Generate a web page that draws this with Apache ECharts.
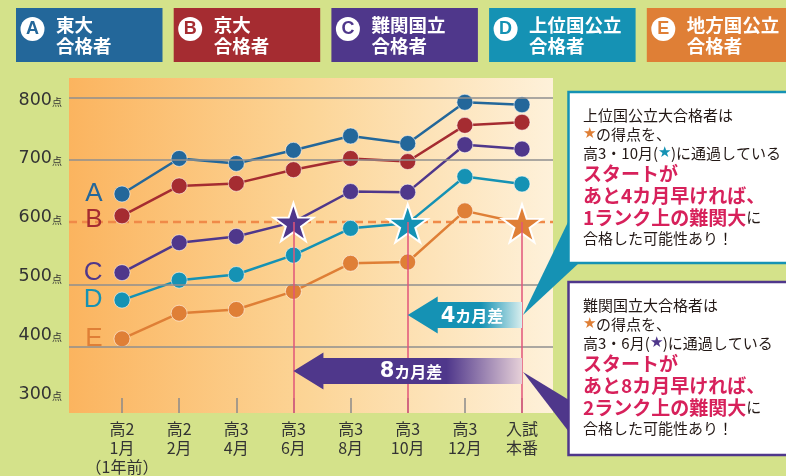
<!DOCTYPE html>
<html>
<head>
<meta charset="utf-8">
<script src="https://cdn.jsdelivr.net/npm/echarts@6/dist/echarts.min.js"></script>
<style>
  html, body { margin: 0; padding: 0; background: #d4e28a; }
  #chart { width: 786px; height: 476px; }
</style>
</head>
<body>
<div id="chart"></div>
<script>
var categories = ['高2\n1月\n（1年前）', '高2\n2月', '高3\n4月', '高3\n6月', '高3\n8月', '高3\n10月', '高3\n12月', '入試\n本番'];
var yTicks = [300, 400, 500, 600, 700, 800];
var gridValues = [400, 500, 700, 800];
var borderline = 600;

var letters = ['A', 'B', 'C', 'D', 'E'];
var groupNames = ['東大\n合格者', '京大\n合格者', '難関国立\n合格者', '上位国公立\n合格者', '地方国公立\n合格者'];
var seriesA = [645, 702, 694, 715, 738, 726, 792, 788];
var seriesB = [610, 658, 662, 684, 702, 697, 755, 760];
var seriesC = [519, 567, 577, 600, 649, 648, 724, 717];
var seriesD = [475, 507, 516, 547, 590, 598, 673, 661];
var seriesE = [413, 454, 460, 489, 534, 536, 618, 598];
// index of the point drawn as a star (-1 = none)
var starIndex = [-1, -1, 3, 5, 7];

var colors = ['#23679a', '#a52c31', '#4f378b', '#1592b4', '#df7f36'];
var YMIN = 294.1, YMAX = 830.9;
var STAR = 'path://M0,-1L0.2245,-0.309L0.951,-0.309L0.363,0.118L0.588,0.809L0,0.382L-0.588,0.809L-0.363,0.118L-0.951,-0.309L-0.2245,-0.309Z';

var chart = echarts.init(document.getElementById('chart'));

function makeSeries(i, values) {
  var color = colors[i];
  return {
    name: letters[i],
    type: 'line',
    xAxisIndex: 1,
    yAxisIndex: 1,
    symbol: 'circle',
    symbolSize: 16,
    lineStyle: { color: color, width: 2.5 },
    itemStyle: { color: color, borderColor: 'rgba(255,255,255,0.55)', borderWidth: 1 },
    z: 3,
    data: values.map(function (v, k) {
      var item = { value: v };
      if (k === 0) {
        item.label = {
          show: true, position: 'left', distance: 11,
          formatter: letters[i],
          color: color, fontSize: 26, fontFamily: 'Liberation Sans',
          offset: i === 1 ? [0, 4] : [0, 0]
        };
      }
      if (k === starIndex[i]) {
        item.symbol = STAR;
        item.symbolSize = [40, 38];
        item.itemStyle = { color: color, borderColor: '#fff', borderWidth: 2 };
      }
      return item;
    })
  };
}

var seriesList = [
  {
    type: 'line', xAxisIndex: 0, yAxisIndex: 0,
    data: [[0, borderline], [1, borderline]],
    symbol: 'none', silent: true, z: 1,
    lineStyle: { color: '#f08a48', width: 2.5, type: [8, 5] },
    markLine: {
      silent: true, symbol: 'none', label: { show: false },
      lineStyle: { color: '#8f8f8f', width: 1.5, type: 'solid' },
      data: gridValues.map(function (v) { return { yAxis: v }; })
    }
  }
];
[seriesA, seriesB, seriesC, seriesD, seriesE].forEach(function (vals, i) {
  seriesList.push(makeSeries(i, vals));
});
// pink drop lines under the stars
seriesList[1].markLine = {
  silent: true, symbol: 'none', label: { show: false },
  lineStyle: { color: '#e0557a', width: 1.5, type: 'solid' },
  data: starIndex.filter(function (s) { return s >= 0; }).map(function (s) {
    return [{ coord: [s, borderline] }, { coord: [s, YMIN] }];
  })
};

var option = {
  animation: false,
  backgroundColor: '#d4e28a',
  grid: [
    {
      left: 69, top: 78, width: 484, height: 335, show: true, borderWidth: 0,
      backgroundColor: new echarts.graphic.LinearGradient(0, 0, 1, 0, [
        { offset: 0, color: '#fbb45f' },
        { offset: 0.5, color: '#fcd597' },
        { offset: 1, color: '#fef1da' }
      ])
    },
    { left: 122, top: 78, width: 400, height: 335 },
    { left: 69, top: 100, width: 484, height: 294 }
  ],
  xAxis: [
    { type: 'value', gridIndex: 0, min: 0, max: 1, show: false },
    {
      type: 'category', gridIndex: 1, data: categories, boundaryGap: false,
      axisLine: { show: false },
      axisTick: { show: true, inside: true, length: 15, lineStyle: { color: '#8a8a8a', width: 1.5 } },
      axisLabel: { margin: 6, fontSize: 16, lineHeight: 19, color: '#333', fontFamily: 'Noto Sans CJK JP', interval: 0 }
    },
    { type: 'value', gridIndex: 2, show: false }
  ],
  yAxis: [
    { type: 'value', gridIndex: 0, min: YMIN, max: YMAX, show: false },
    { type: 'value', gridIndex: 1, min: YMIN, max: YMAX, show: false },
    {
      type: 'value', gridIndex: 2, min: yTicks[0], max: yTicks[yTicks.length - 1], interval: 100,
      axisLine: { show: false }, axisTick: { show: false }, splitLine: { show: false },
      axisLabel: {
        margin: 7,
        formatter: function (v) { return '{n|' + v + '}{u|点}'; },
        rich: {
          n: { fontSize: 17.5, fontFamily: 'DejaVu Sans', color: '#333' },
          u: { fontSize: 10, fontFamily: 'Noto Sans CJK JP', color: '#333', padding: [5, 0, 0, 0] }
        }
      }
    }
  ],
  series: seriesList
};
chart.setOption(option);

// ---- decorations: legend boxes, arrows, note boxes ----
var graphics = [];
groupNames.forEach(function (name, i) {
  var x = 16 + i * 157.7;
  graphics.push({
    type: 'group', silent: true,
    children: [
      { type: 'rect', shape: { x: x, y: 8, width: 146.5, height: 54 }, style: { fill: colors[i] } },
      { type: 'circle', shape: { cx: x + 16.5, cy: 29, r: 12 }, style: { fill: '#fff' } },
      { type: 'text', x: x + 16.5, y: 29.5, style: { text: letters[i], fill: colors[i], font: 'bold 18px "Liberation Sans"', textAlign: 'center', textVerticalAlign: 'middle' } },
      { type: 'text', x: x + 40, y: 14, style: { text: name, fill: '#fff', font: 'bold 18.5px "Noto Sans CJK JP"', lineHeight: 21.5, textVerticalAlign: 'top' } }
    ]
  });
});

function arrow(tipIdx, endIdx, value, color, endColor, solidTo, label) {
  var tip = chart.convertToPixel({ gridIndex: 1 }, [tipIdx, value]);
  var end = chart.convertToPixel({ gridIndex: 1 }, [endIdx, value]);
  var x0 = tip[0], yc = tip[1], x1 = end[0], hx = x0 + 30;
  graphics.push({
    type: 'polygon', silent: true, z: 20,
    shape: { points: [[x0, yc], [hx, yc - 18.5], [hx, yc - 13], [x1, yc - 13], [x1, yc + 13], [hx, yc + 13], [hx, yc + 18.5]] },
    style: {
      fill: new echarts.graphic.LinearGradient(0, 0, 1, 0, [
        { offset: 0, color: color }, { offset: solidTo, color: color }, { offset: 1, color: endColor }
      ])
    }
  });
  graphics.push({
    type: 'text', silent: true, z: 21, x: label.x, y: yc + 1,
    style: {
      text: '{a|' + label.num + '}{b|カ月差}', textAlign: 'center', textVerticalAlign: 'middle',
      rich: {
        a: { fontSize: 21, fontWeight: 'bold', fill: '#fff', fontFamily: 'DejaVu Sans' },
        b: { fontSize: 16, fontWeight: 'bold', fill: '#fff', fontFamily: 'Noto Sans CJK JP' }
      }
    }
  });
}
arrow(5, 7, 451, '#1592b4', '#d8eeee', 0.64, { num: '4', x: 472 });
arrow(3, 7, 361.5, '#4f378b', '#e6d0d8', 0.67, { num: '8', x: 411 });

function noteBox(y, h, color, pointer, lines) {
  graphics.push({ type: 'polygon', silent: true, z: 30, shape: { points: pointer }, style: { fill: color } });
  graphics.push({
    type: 'rect', silent: true, z: 31,
    shape: { x: 568.5, y: y, width: 240, height: h },
    style: { fill: '#fff', stroke: color, lineWidth: 2.5 }
  });
  graphics.push({
    type: 'text', silent: true, z: 32, x: 583, y: y + 13.5,
    style: {
      text: lines.join('\n'), textVerticalAlign: 'top',
      fill: '#231815', fontSize: 15, fontFamily: 'Noto Sans CJK JP', lineHeight: 19,
      rich: {
        t: { fontSize: 15, fontFamily: 'Noto Sans CJK JP', fill: '#231815', lineHeight: 19 },
        m: { fontSize: 19, fontWeight: 'bold', fontFamily: 'Noto Sans CJK JP', fill: '#d7215b', lineHeight: 22 },
        so: { fontSize: 15, fill: '#df7f36', lineHeight: 19 },
        sd: { fontSize: 15, fill: '#1592b4', lineHeight: 19 },
        sc: { fontSize: 15, fill: '#4f378b', lineHeight: 19 }
      }
    }
  });
}
noteBox(92, 171, '#1592b4', [[568, 222], [579, 263], [523, 315]], [
  '{t|上位国公立大合格者は}',
  '{so|★}{t|の得点を、}',
  '{t|高3・10月(}{sd|★}{t|)に通過している}',
  '{m|スタートが}',
  '{m|あと4カ月早ければ、}',
  '{m|1ランク上の難関大}{t|に}',
  '{t|合格した可能性あり！}'
]);
noteBox(282, 173, '#4f378b', [[569, 400], [569, 432], [523, 372]], [
  '{t|難関国立大合格者は}',
  '{so|★}{t|の得点を、}',
  '{t|高3・6月(}{sc|★}{t|)に通過している}',
  '{m|スタートが}',
  '{m|あと8カ月早ければ、}',
  '{m|2ランク上の難関大}{t|に}',
  '{t|合格した可能性あり！}'
]);

chart.setOption({ graphic: graphics });
</script>
</body>
</html>
